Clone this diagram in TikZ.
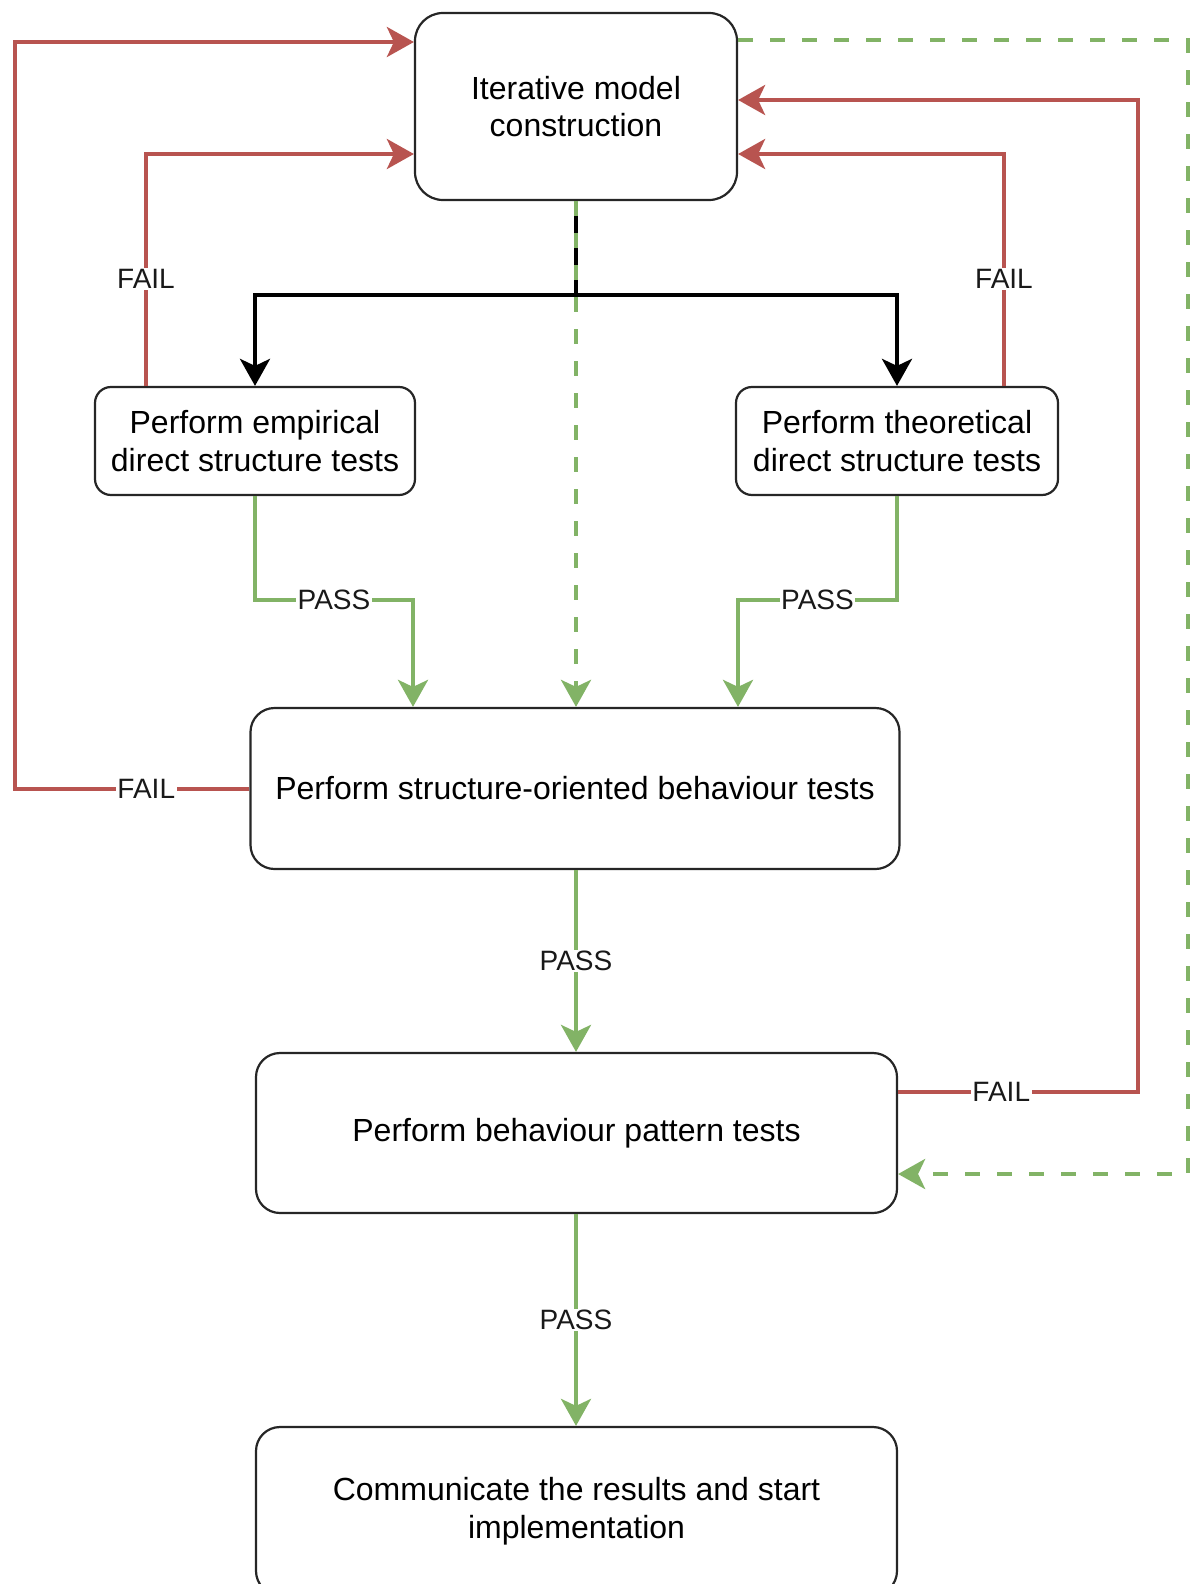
\documentclass[tikz,border=0pt]{standalone}
\usepackage{fontspec}
\setmainfont{Liberation Sans}
\usetikzlibrary{arrows.meta}
\definecolor{failred}{HTML}{B85450}
\definecolor{passgreen}{HTML}{82B366}
\begin{document}
\begin{tikzpicture}[x=1pt,y=-1pt,
  box/.style={draw=black!85, line width=2.2pt, fill=white, rounded corners=#1,
    align=center, inner sep=0pt, font=\fontsize{32}{37.5}\selectfont},
  box/.default=16pt,
  tipc/.tip={Stealth[length=27pt,width=30pt,inset=7pt]},
  flow/.style={line width=4pt, -tipc},
  blk/.style={flow, draw=black},
  fail/.style={flow, draw=failred},
  pass/.style={flow, draw=passgreen},
  passdash/.style={flow, draw=passgreen, dash pattern=on 15pt off 17pt},
  lbl/.style={fill=white, inner sep=1.5pt, text=black!90, font=\fontsize{28}{32}\selectfont}
]
\useasboundingbox (0,0) rectangle (1192,1584);

% boxes
\node[box=28pt, minimum width=322pt, minimum height=187pt] (imc) at (576,106.5) {Iterative model\\construction};
\node[box, minimum width=320pt, minimum height=108pt] (emp) at (255,441) {Perform empirical\\direct structure tests};
\node[box, minimum width=322pt, minimum height=108pt] (theo) at (897,441) {Perform theoretical\\direct structure tests};
\node[box=24pt, minimum width=649pt, minimum height=161pt] (sobt) at (575,788.5) {Perform structure-oriented behaviour tests};
\node[box=24pt, minimum width=641pt, minimum height=160pt] (bpt) at (576.5,1133) {Perform behaviour pattern tests};
\node[box=24pt, minimum width=641pt, minimum height=168pt] (comm) at (576.5,1511) {Communicate the results and start\\implementation};

% bend points
\coordinate (split) at (576,295);
\coordinate (lpass) at (413,600);
\coordinate (rpass) at (738,600);

% model construction branches into the two direct structure tests
\draw[blk, -] (imc.south) -- (split);
\draw[blk] (split) -| (emp.north);
\draw[blk] (split) -| (theo.north);

% skip straight to structure-oriented behaviour tests
\draw[passdash] (imc.south) -- (imc.south |- sobt.north);

% PASS paths
\draw[pass] (emp.south) -- (emp.south |- lpass) -- node[lbl]{PASS} (lpass) -- (lpass |- sobt.north);
\draw[pass] (theo.south) -- (theo.south |- rpass) -- node[lbl]{PASS} (rpass) -- (rpass |- sobt.north);
\draw[pass] (sobt.south -| imc.south) -- node[lbl]{PASS} (imc.south |- bpt.north);
\draw[pass] (bpt.south -| imc.south) -- node[lbl]{PASS} (imc.south |- comm.north);

% skip straight to behaviour pattern tests
\draw[passdash] (imc.east |- 0,40) -- (1188,40) -- (1188,1174) -- (bpt.east |- 0,1174);

% FAIL paths
\draw[fail] (sobt.west) -- node[lbl, pos=0.44]{FAIL} (15,788.5) -- (15,42) -- (imc.west |- 0,42);
\draw[fail] (emp.north -| 146,0) -- node[lbl, pos=0.46]{FAIL} (146,154) -- (imc.west |- 0,154);
\draw[fail] (theo.north -| 1004,0) -- node[lbl, pos=0.46]{FAIL} (1004,154) -- (imc.east |- 0,154);
\draw[fail] (bpt.east |- 0,1092) -- node[lbl, pos=0.43]{FAIL} (1138,1092) -- (1138,100) -- (imc.east |- 0,100);
\end{tikzpicture}
\end{document}
